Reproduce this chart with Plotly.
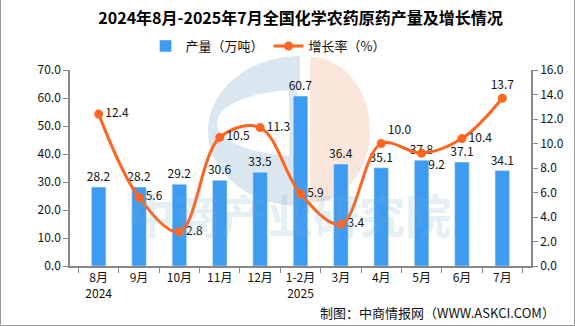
import numpy as np
import plotly.graph_objects as go

categories = ["8月<br>2024", "9月", "10月", "11月", "12月", "1-2月<br>2025", "3月", "4月", "5月", "6月", "7月"]
output = [28.2, 28.2, 29.2, 30.6, 33.5, 60.7, 36.4, 35.1, 37.8, 37.1, 34.1]
growth = [12.4, 5.6, 2.8, 10.5, 11.3, 5.9, 3.4, 10.0, 9.2, 10.4, 13.7]
growth_pos = ["middle right"] * 7 + ["top right", "bottom right", "middle right", "top center"]

W, H = 575, 326
ML, MR, MT, MB = 70, 44, 70, 60
PW, PH = W - ML - MR, H - MT - MB

def px(x):
    return (x - ML) / PW

def py(y):
    return (H - MB - y) / PH

FONT = "Noto Sans CJK SC, SimSun, sans-serif"

fig = go.Figure()
fig.add_trace(go.Bar(
    x=categories, y=output, name="产量（万吨）",
    marker_color="#3e9cf0", width=0.36,
    text=[f"{v:.1f}" for v in output], textposition="outside", constraintext="none",
    textfont=dict(size=12, color="#111"), cliponaxis=False,
))
fig.add_trace(go.Scatter(
    x=categories, y=growth, name="增长率（%）", yaxis="y2",
    mode="lines+markers+text", line=dict(color="#ff6520", width=3, shape="spline", smoothing=1.0),
    marker=dict(size=9, color="#ff6520"),
    text=[f"{v:.1f}" for v in growth], textposition=growth_pos,
    textfont=dict(size=12, color="#111"), cliponaxis=False,
))

# decorative watermark logo (approximate)
def ellipse_pts(cx, cy, rx, ry, a0, a1, n=60):
    t = np.linspace(a0, a1, n)
    return [(px(cx + rx * np.cos(a)), py(cy - ry * np.sin(a))) for a in t]

def to_path(pts):
    return "M " + " L ".join(f"{x:.4f},{y:.4f}" for x, y in pts) + " Z"

outer = ellipse_pts(300, 131, 92, 75, np.pi / 2, 3 * np.pi / 2)
inner = ellipse_pts(300, 123, 83, 33, 3 * np.pi / 2, np.pi / 2)
c_shape = outer + [(px(300), py(206))] + [(px(300), py(156))] + inner + [(px(300), py(56))]
orange = ellipse_pts(310, 130, 60, 73, -np.pi / 2, np.pi / 2)
shapes = [
    dict(type="path", xref="paper", yref="paper", path=to_path(c_shape),
         fillcolor="#dbe7f0", line=dict(width=0), layer="below"),
    dict(type="path", xref="paper", yref="paper", path=to_path(orange),
         fillcolor="#fbe6dc", line=dict(width=0), layer="below"),
    dict(type="rect", xref="paper", yref="paper", x0=px(289), x1=px(297), y0=py(200), y1=py(57),
         fillcolor="#dbe7f0", line=dict(width=0), layer="below"),
    dict(type="rect", xref="paper", yref="paper", x0=px(0.5), x1=px(574.5), y0=py(325.5), y1=py(-1),
         line=dict(color="#999999", width=1), fillcolor="rgba(0,0,0,0)"),
]

fig.update_layout(
    width=W, height=H, margin=dict(l=ML, r=MR, t=MT, b=MB),
    paper_bgcolor="white", plot_bgcolor="rgba(0,0,0,0)",
    font=dict(family=FONT, size=12, color="#111"),
    title=dict(text="<b>2024年8月-2025年7月全国化学农药原药产量及增长情况</b>",
               x=0.5, xref="paper", xanchor="center", y=1 - 18 / H, yanchor="middle",
               font=dict(size=16, color="#000")),
    legend=dict(orientation="h", x=px(268), xanchor="center", y=py(46), yanchor="middle",
                font=dict(size=13), bgcolor="rgba(0,0,0,0)", itemwidth=30),
    showlegend=True,
    bargap=0.64,
    xaxis=dict(type="category", showline=True, linecolor="#888", linewidth=1.5,
               ticks="outside", tickson="boundaries", tickcolor="#888", ticklen=5,
               showgrid=False, tickfont=dict(size=12)),
    yaxis=dict(range=[0, 70], dtick=10, tickformat=".1f", showline=True, linecolor="#888",
               linewidth=1.5, ticks="outside", tickcolor="#888", ticklen=5, showgrid=False,
               zeroline=False, tickfont=dict(size=12)),
    yaxis2=dict(range=[0, 16], dtick=2, tickformat=".1f", overlaying="y", side="right",
                showline=True, linecolor="#888", linewidth=1.5, ticks="outside", tickcolor="#888",
                ticklen=5, showgrid=False, zeroline=False, tickfont=dict(size=12)),
    shapes=shapes,
)

fig.add_annotation(text="<b>中商产业研究院</b>", xref="paper", yref="paper",
                   x=px(290), y=py(248), showarrow=False,
                   font=dict(size=46, color="rgba(120,170,210,0.2)", family=FONT))
fig.add_annotation(text="制图：中商情报网（WWW.ASKCI.COM）", xref="paper", yref="paper",
                   x=px(557), y=py(312), xanchor="right", yanchor="middle", showarrow=False,
                   font=dict(size=13, color="#111"))

fig.write_html("out.html")
